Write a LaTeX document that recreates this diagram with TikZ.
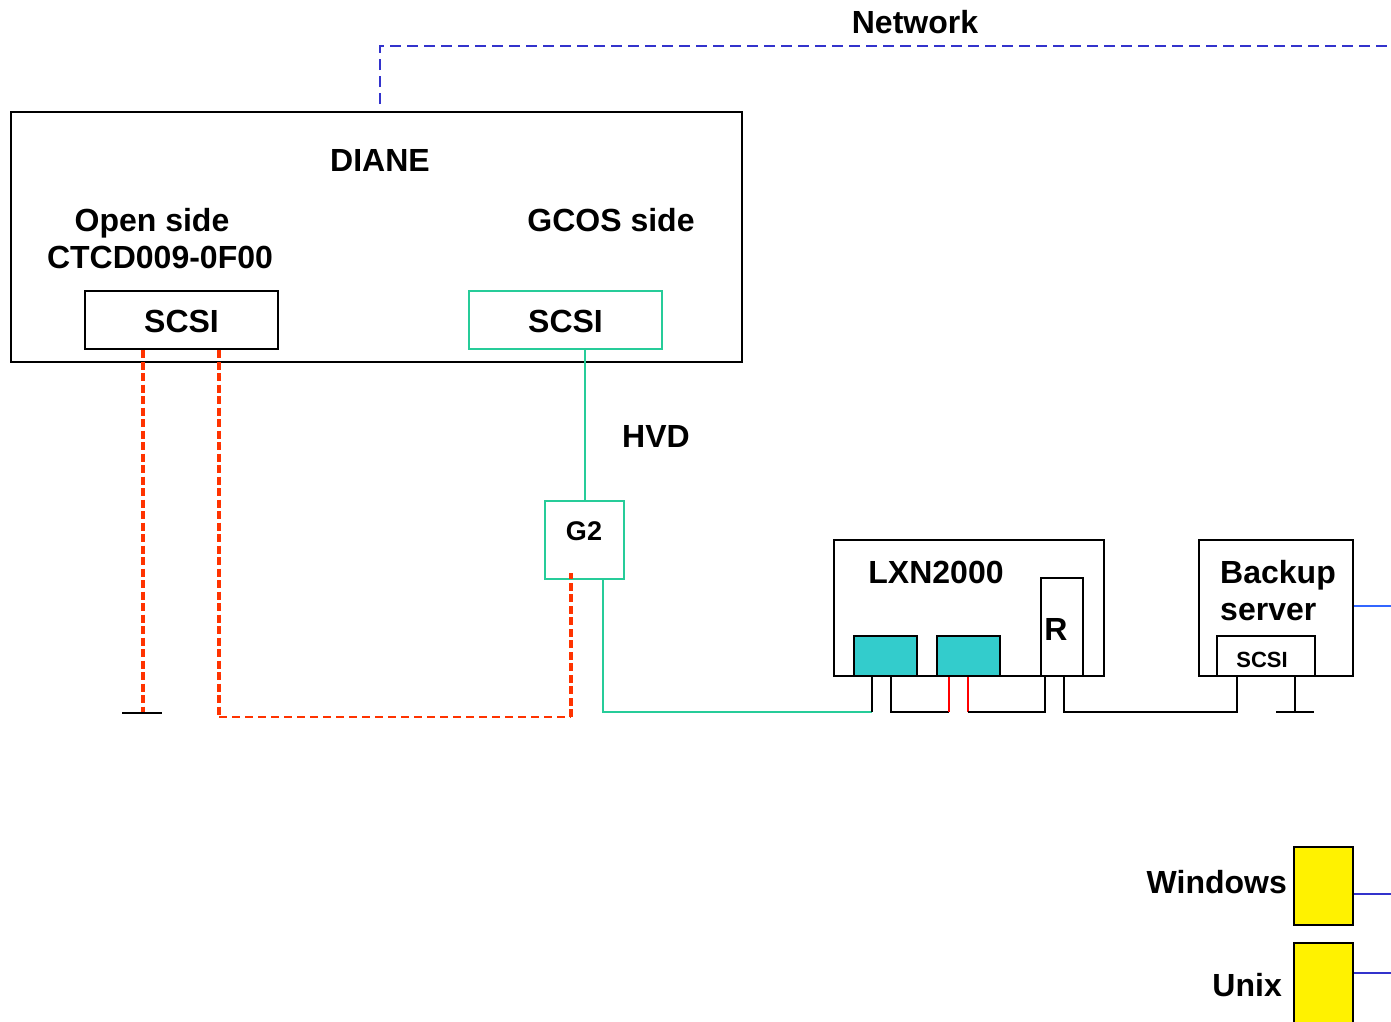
\documentclass[tikz,border=0pt]{standalone}
\usepackage{fontspec}
\setmainfont{Liberation Sans}
\usepackage{tikz}
\usetikzlibrary{positioning}
\definecolor{hvdteal}{RGB}{38,204,153}
\definecolor{portcyan}{RGB}{51,204,204}
\definecolor{opred}{RGB}{255,51,0}
\definecolor{netblue}{RGB}{51,51,204}
\definecolor{lanblue}{RGB}{51,102,255}
\tikzset{
  box/.style={draw,line width=2pt,inner sep=0pt},
  lbl/.style={inner sep=0pt,font=\fontsize{32}{38}\selectfont\bfseries},
  smalllbl/.style={inner sep=0pt,font=\fontsize{27}{32}\selectfont\bfseries},
  tinylbl/.style={inner sep=0pt,font=\fontsize{22}{26}\selectfont\bfseries},
  wire/.style={line width=2pt},
  hvd/.style={line width=2pt,hvdteal},
  redwire/.style={line width=1.8pt,red},
  opendash/.style={line width=3.5pt,opred,dash pattern=on 8pt off 3.5pt},
  netline/.style={line width=2pt,netblue,dash pattern=on 11pt off 6pt},
  lan/.style={line width=2pt,lanblue}
}

\begin{document}
\begin{tikzpicture}[x=1pt,y=-1pt]
  \useasboundingbox (0,0) rectangle (1391,1021);
  \node[box,minimum width=731,minimum height=250] (diane) at (376.5,237) {};
  \node[box,minimum width=193,minimum height=58] (scsiL) at (181.5,320) {};
  \node[box,draw=hvdteal,minimum width=193,minimum height=58] (scsiR) at (565.5,320) {};
  \node[box,draw=hvdteal,minimum width=79,minimum height=78] (g2) at (584.5,540) {};
  \node[box,minimum width=270,minimum height=136] (lxn) at (969,608) {};
  \node[box,fill=portcyan,minimum width=63,minimum height=40] (port1) at (885.5,656) {};
  \node[box,fill=portcyan,minimum width=63,minimum height=40] (port2) at (968.5,656) {};
  \node[box,minimum width=42,minimum height=98] (rbox) at (1062,627) {};
  \node[box,minimum width=154,minimum height=136] (backup) at (1276,608) {};
  \node[box,minimum width=98,minimum height=40] (bscsi) at (1266,656) {};
  \node[box,fill=yellow,minimum width=59,minimum height=78] (win) at (1323.5,886) {};
  \node[box,fill=yellow,minimum width=59,minimum height=80] (unix) at (1323.5,983) {};

  \node[lbl,anchor=base] (netlbl) at (915,33) {Network};
  \node[lbl,anchor=base] (dianelbl) at (380,171) {DIANE};
  \node[lbl,anchor=base] (openlbl) at (152,231) {Open side};
  \node[lbl,anchor=base] (ctcdlbl) at (160,268) {CTCD009-0F00};
  \node[lbl,anchor=base] (gcoslbl) at (611,231) {GCOS side};
  \node[lbl,anchor=base] at (scsiL |- 0,332) {SCSI};
  \node[lbl,anchor=base] at (scsiR |- 0,332) {SCSI};
  \node[lbl,anchor=base] (hvdlbl) at (656,447) {HVD};
  \node[smalllbl,anchor=base] at (584,540) {G2};
  \node[lbl,anchor=base] (lxnlbl) at (936,583) {LXN2000};
  \node[lbl,anchor=base] at (1056,640) {R};
  \node[lbl,anchor=base west] (backuplbl) at (1220,583) {Backup};
  \node[lbl,anchor=base west] (serverlbl) at (1220,620) {server};
  \node[tinylbl,anchor=base] at (1262,667) {SCSI};
  \node[lbl,anchor=base east] (winlbl) at (1287,893) {Windows};
  \node[lbl,anchor=base east] (unixlbl) at (1282,996) {Unix};

  \coordinate (netcorner) at (380,46);
  \coordinate (netend) at (1391,46);
  \coordinate (gndL) at (143,713);
  \coordinate (bendL) at (219,717);
  \coordinate (bendR) at (571,717);
  \coordinate (hvdbend) at (603,712);
  \coordinate (pin1) at (872,712);
  \coordinate (pin2) at (891,712);
  \coordinate (pin3) at (949,712);
  \coordinate (pin4) at (968,712);
  \coordinate (pin5) at (1045,712);
  \coordinate (pin6) at (1064,712);
  \coordinate (pin7) at (1237,712);
  \coordinate (pin8) at (1295,712);
  \coordinate (lanB) at (1391,606);
  \coordinate (lanW) at (1391,894);
  \coordinate (lanU) at (1391,973);

  \draw[netline] (netcorner |- 0,104) -- (netcorner) -- (netend);
  \draw[opendash] (scsiL.south -| gndL) -- (gndL);
  \draw[wire] ([xshift=-21pt]gndL) -- ([xshift=19pt]gndL);
  \draw[opendash] (scsiL.south -| bendL) -- (bendL);
  \draw[opendash,line width=2.5pt,dash pattern=on 8pt off 5pt] (bendL) -- (bendR);
  \draw[opendash] (bendR) -- (bendR |- 0,573);
  \draw[hvd] (scsiR.south -| g2.north) -- (g2.north);
  \draw[hvd] (g2.south -| hvdbend) -- (hvdbend) -- (pin1);
  \draw[wire] (pin1) -- (lxn.south -| pin1);
  \draw[wire] (lxn.south -| pin2) -- (pin2) -- (pin3);
  \draw[redwire] (pin3) -- (lxn.south -| pin3);
  \draw[redwire] (lxn.south -| pin4) -- (pin4);
  \draw[wire] (pin4) -- (pin5) -- (lxn.south -| pin5);
  \draw[wire] (lxn.south -| pin6) -- (pin6) -- (pin7) -- (backup.south -| pin7);
  \draw[wire] (backup.south -| pin8) -- (pin8);
  \draw[wire] ([xshift=-19pt]pin8) -- ([xshift=19pt]pin8);
  \draw[lan] (backup.east |- lanB) -- (lanB);
  \draw[lan,netblue] (win.east |- lanW) -- (lanW);
  \draw[lan,netblue] (unix.east |- lanU) -- (lanU);
\end{tikzpicture}
\end{document}
